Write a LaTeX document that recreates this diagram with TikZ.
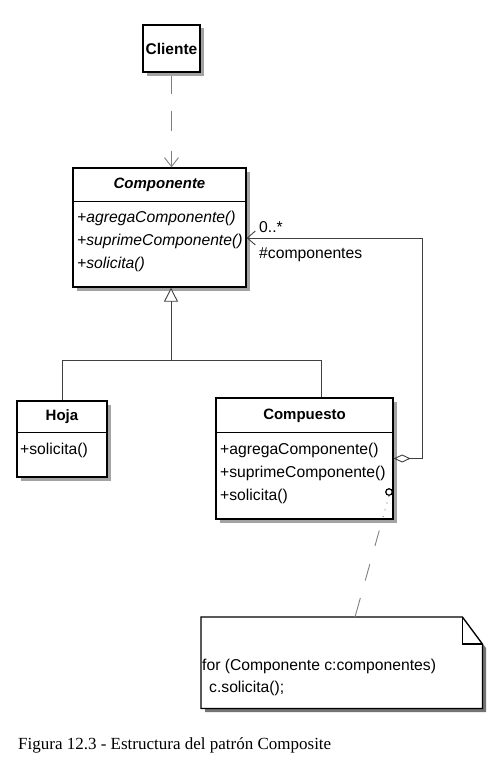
\documentclass[tikz,border=0pt]{standalone}
\usepackage{fontspec}
\setmainfont{Liberation Sans}
\newfontfamily\capfont{Liberation Serif}
\usetikzlibrary{arrows.meta,shadows}
\begin{document}
\begin{tikzpicture}[x=1pt,y=-1pt,
  shad/.style={drop shadow={shadow xshift=3.5pt, shadow yshift=-3.5pt, fill=black!45, opacity=0.8}},
  cls/.style={draw, line width=1.3pt, fill=white, rectangle, inner sep=0pt, shad},
  txt/.style={inner sep=0pt, anchor=west, font=\fontsize{15.7}{18}\selectfont},
  hdr/.style={inner sep=0pt, font=\fontsize{15}{18}\selectfont\bfseries},
  divider/.style={line width=1pt},
  conn/.style={line width=0.9pt, black!75},
  dep/.style={line width=0.9pt, black!50, dash pattern=on 0pt off 3pt on 18pt off 17pt on 20pt off 20pt on 40pt, -{Straight Barb[length=9pt,width=14pt,line width=0.9pt]}},
  notelink/.style={line width=0.9pt, black!50, dash pattern={on 1pt off 6pt on 1pt off 6pt on 1pt off 6pt on 1pt off 14pt on 16pt off 19pt on 17pt off 18pt on 30pt}},
]
\useasboundingbox (0,0) rectangle (497,760);

% classes
\node[cls, minimum width=57pt, minimum height=47pt, font=\fontsize{15.5}{18}\selectfont\bfseries] (cli) at (171.5,48.5) {Cliente};
\node[cls, minimum width=173pt, minimum height=119pt] (comp) at (159.5,227.5) {};
\node[cls, minimum width=90pt, minimum height=76pt] (hoja) at (62,439) {};
\node[cls, minimum width=177pt, minimum height=121pt] (compu) at (304.5,458.5) {};

% dividers
\draw[divider] (comp.west |- 0,201) -- (comp.east |- 0,201);
\draw[divider] (hoja.west |- 0,432) -- (hoja.east |- 0,432);
\draw[divider] (compu.west |- 0,432) -- (compu.east |- 0,432);

% Componente texts
\node[hdr, font=\fontsize{15}{18}\selectfont\bfseries\itshape] (compT) at (159.5,185) {Componente};
\node[txt, font=\fontsize{15.7}{18}\selectfont\itshape] (cm1) at (77,218) {+agregaComponente()};
\node[txt, font=\fontsize{15.7}{18}\selectfont\itshape] (cm2) at (77,241) {+suprimeComponente()};
\node[txt, font=\fontsize{15.7}{18}\selectfont\itshape] (cm3) at (77,264) {+solicita()};

% Hoja texts
\node[hdr] (hojaT) at (62,417) {Hoja};
\node[txt] (hm1) at (20,450) {+solicita()};

% Compuesto texts
\node[hdr] (compuT) at (304.5,416) {Compuesto};
\node[txt] (um1) at (220,450) {+agregaComponente()};
\node[txt] (um2) at (220,473) {+suprimeComponente()};
\node[txt] (um3) at (220,496) {+solicita()};

% dependency
\draw[dep] (cli.south) -- (cli.south |- comp.north);

% generalization
\coordinate (j) at (171,360);
\coordinate (jr) at (321,360);
\draw[conn, -{Triangle[open, length=14pt, width=14pt, line width=0.9pt, fill=white]}] (j) -- (j |- comp.south);
\draw[conn] (hoja.north) |- (jr) -- (jr |- compu.north);

% aggregation / association
\coordinate (ar) at (422,0);
\coordinate (c1) at ([yshift=-10.5pt]comp.east);
\draw[conn, {Diamond[open, length=17pt, width=8pt, line width=0.9pt]}-{Straight Barb[length=8pt,width=14pt,line width=0.9pt]}]
  (compu.east) -- (compu.east -| ar) -- (ar |- c1) -- (c1);
\node[txt] (mult) at (259,227) {0..*};
\node[txt] (role) at (259,255) {\#componentes};

% note
\node[minimum width=281pt, minimum height=91pt, inner sep=0pt, anchor=north west] (note) at (201,617) {};
\path[fill=black!55] (205,621) -- (466,621) -- (486,648) -- (486,712) -- (205,712) -- cycle;
\path[fill=white] (note.north west) -- ([xshift=-20pt]note.north east) -- ([yshift=-27pt]note.north east)
  -- (note.south east) -- (note.south west) -- cycle;
\draw[line width=1.3pt]
  (note.north west) -- ([xshift=-20pt]note.north east) -- ([yshift=-27pt]note.north east)
  -- (note.south east) -- (note.south west) -- cycle;
\draw[line width=1.3pt] ([xshift=-20pt]note.north east) -- ([xshift=-20pt,yshift=-27pt]note.north east) -- ([yshift=-27pt]note.north east);
\node[txt] (n1) at (202,666) {for (Componente c:componentes)};
\node[txt] (n2) at (209,688) {c.solicita();};

% note link
\node[circle, draw, line width=1.2pt, inner sep=0pt, minimum size=6.5pt] (circ) at (389,492) {};
\coordinate (na) at (355,617);
\draw[notelink] (circ.south) -- (na);

% caption
\node[inner sep=0pt, anchor=west, font=\capfont\fontsize{17}{20}\selectfont] (cap) at (18,745) {Figura 12.3 - Estructura del patrón Composite};
\end{tikzpicture}
\end{document}
